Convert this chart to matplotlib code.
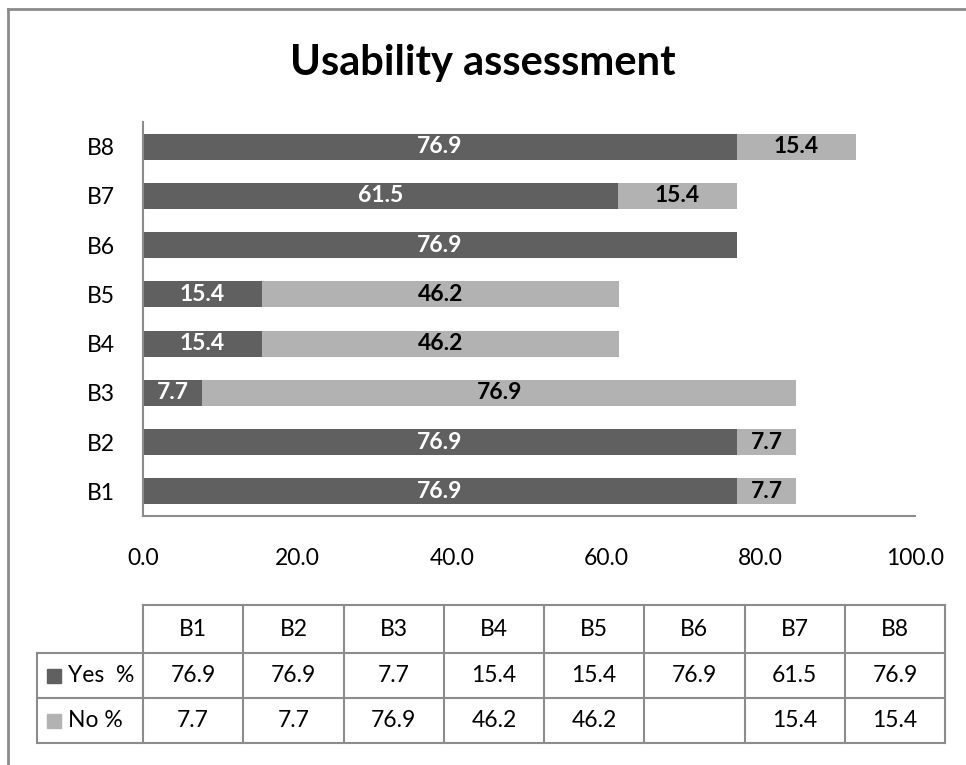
import numpy as np
import matplotlib
matplotlib.use("Agg")
import matplotlib.pyplot as plt
from matplotlib.patches import Rectangle

plt.rcParams['font.family'] = ['Lato', 'DejaVu Sans']

categories = ['B1', 'B2', 'B3', 'B4', 'B5', 'B6', 'B7', 'B8']
yes_pct = [76.9, 76.9, 7.7, 15.4, 15.4, 76.9, 61.5, 76.9]
no_pct = [7.7, 7.7, 76.9, 46.2, 46.2, np.nan, 15.4, 15.4]
x_ticks = [0, 20, 40, 60, 80, 100]
series_names = ['Yes  %', 'No %']

DARK = '#606060'
LIGHT = '#b2b2b2'
EDGE = '#8c8c8c'
FS = 16.5

W, H = 966, 765
fig = plt.figure(figsize=(W / 100, H / 100), dpi=100)

# pixel-coordinate overlay for frame and data table
bg = fig.add_axes([0, 0, 1, 1])
bg.set_xlim(0, W)
bg.set_ylim(H, 0)
bg.axis('off')

bg.plot([8, 8], [9, H], color=EDGE, lw=2)
bg.plot([8, W], [9, 9], color=EDGE, lw=2)

bg.text(483, 63, 'Usability assessment', ha='center', va='center',
        fontsize=30, fontweight='bold')

# main bar chart
def fx(px):
    return px / W

def fy(py):
    return 1 - py / H

ax = fig.add_axes([fx(143), fy(516), fx(915) - fx(143), fy(122) - fy(516)])
y = np.arange(len(categories))
no_vals = np.nan_to_num(no_pct)
ax.barh(y, yes_pct, height=0.53, color=DARK)
ax.barh(y, no_vals, left=yes_pct, height=0.53, color=LIGHT)

for i in range(len(categories)):
    ax.text(yes_pct[i] / 2, y[i], f'{yes_pct[i]:.1f}', ha='center', va='center',
            color='white', fontsize=16.5, fontweight='bold')
    if not np.isnan(no_pct[i]):
        ax.text(yes_pct[i] + no_pct[i] / 2, y[i], f'{no_pct[i]:.1f}', ha='center',
                va='center', color='black', fontsize=16.5, fontweight='bold')

ax.set_xlim(0, 100)
ax.set_ylim(-0.5, len(categories) - 0.5)
ax.set_yticks(y)
ax.set_yticklabels(categories)
ax.set_xticks(x_ticks)
ax.set_xticklabels([f'{t:.1f}' for t in x_ticks])
ax.tick_params(axis='both', length=0, labelsize=FS)
ax.tick_params(axis='x', pad=23)
ax.tick_params(axis='y', pad=20)
for s in ['top', 'right']:
    ax.spines[s].set_visible(False)
for s in ['left', 'bottom']:
    ax.spines[s].set_color(EDGE)
    ax.spines[s].set_linewidth(1.5)

# data table below the chart
col_left = 143
col_w = (945 - 143) / len(categories)
row_tops = [605, 653, 698, 743]
label_left = 37
lw = 1.5

for i, c in enumerate(categories):
    x0 = col_left + i * col_w
    bg.text(x0 + col_w / 2, (row_tops[0] + row_tops[1]) / 2, c,
            ha='center', va='center', fontsize=FS)
    for r, vals in enumerate([yes_pct, no_pct]):
        v = vals[i]
        if not np.isnan(v):
            bg.text(x0 + col_w / 2, (row_tops[r + 1] + row_tops[r + 2]) / 2,
                    f'{v:.1f}', ha='center', va='center', fontsize=FS)

# grid lines of the table
bg.plot([col_left, 945], [row_tops[0]] * 2, color=EDGE, lw=lw)
for r in row_tops[1:]:
    bg.plot([label_left, 945], [r, r], color=EDGE, lw=lw)
for i in range(len(categories) + 1):
    x0 = col_left + i * col_w
    bg.plot([x0, x0], [row_tops[0], row_tops[-1]], color=EDGE, lw=lw)
bg.plot([label_left, label_left], [row_tops[1], row_tops[-1]], color=EDGE, lw=lw)

for r, (name, col) in enumerate(zip(series_names, [DARK, LIGHT])):
    yc = (row_tops[r + 1] + row_tops[r + 2]) / 2
    bg.add_patch(Rectangle((47, yc - 7), 14, 14, color=col))
    bg.text(68, yc, name, ha='left', va='center', fontsize=FS)

fig.savefig('out.png', dpi=100)
